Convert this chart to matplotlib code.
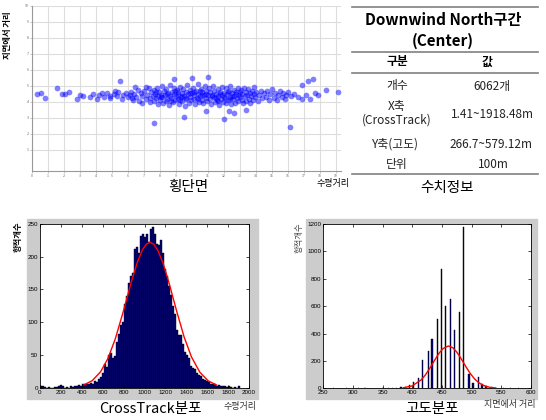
import numpy as np
import matplotlib
matplotlib.use('Agg')
import matplotlib.pyplot as plt
from matplotlib.lines import Line2D
from matplotlib.patches import Rectangle

plt.rcParams['font.family'] = ['Noto Sans CJK KR', 'DejaVu Sans']

# ---- 횡단면 scatter (x, y in units of 100 m) ----
scatter_x = [
    0.29, 0.54, 0.81, 1.58, 1.85, 2.06, 2.3, 2.83, 3.0, 3.2, 3.6, 3.8, 4.04, 4.35, 4.9,
    4.2, 4.5, 4.7, 4.9, 5.1, 5.3, 5.4, 5.6, 5.7, 5.9, 6.0, 5.2,
    6.1, 6.2, 6.3, 6.4, 6.5, 6.6, 6.7, 6.8, 6.9, 7.0, 7.1, 7.2, 7.3, 7.4, 7.45, 6.45, 6.85, 7.15, 7.35, 6.25,
    7.55, 7.6, 7.65, 7.7, 7.75, 7.8, 7.85, 7.9, 7.95, 8.0, 8.05, 8.1, 8.15, 8.2, 8.25, 8.3, 8.35, 8.4,
    8.45, 8.5, 8.55, 8.6, 8.65, 8.7, 8.75, 8.8, 8.85, 8.9, 8.95, 9.0, 7.72, 8.08, 8.42, 8.68, 8.92,
    9.05, 9.1, 9.15, 9.2, 9.25, 9.3, 9.35, 9.4, 9.45, 9.5, 9.55, 9.6, 9.65, 9.7, 9.75, 9.8, 9.85, 9.9,
    9.95, 10.0, 10.05, 10.1, 10.15, 10.2, 10.25, 10.3, 10.35, 10.4, 10.45, 10.5, 10.55, 10.6, 10.65,
    10.7, 10.75, 10.8, 10.85, 10.9, 10.95, 11.0, 9.12, 9.38, 9.62, 9.88, 10.12, 10.38, 10.62, 10.88,
    9.28, 10.48,
    11.05, 11.1, 11.15, 11.2, 11.25, 11.3, 11.35, 11.4, 11.45, 11.5, 11.55, 11.6, 11.65, 11.7, 11.75,
    11.8, 11.85, 11.9, 11.95, 12.0, 12.05, 12.1, 12.15, 12.2, 12.25, 12.3, 12.35, 12.4, 12.45, 12.5,
    12.55, 12.6, 12.65, 12.7, 12.75, 12.8, 12.85, 12.9, 12.95, 13.0, 11.22, 11.48, 11.72, 11.98, 12.22,
    12.48, 12.72, 12.98, 11.62, 12.38,
    13.05, 13.1, 13.15, 13.2, 13.25, 13.3, 13.35, 13.4, 13.45, 13.5, 13.55, 13.6, 13.65, 13.7, 13.75,
    13.8, 13.85, 13.9, 13.95, 14.0, 14.1, 14.2, 14.3, 14.4, 14.5,
    14.6, 14.7, 14.8, 14.9, 15.0, 15.1, 15.2, 15.3, 15.4, 15.5, 15.6, 15.7, 15.8, 15.9, 16.0, 16.2,
    16.4, 16.6,
    16.86, 17.27, 17.58, 17.1, 17.4, 17.9, 18.4, 19.1, 16.9, 17.7,
    9.98, 11.0, 8.86, 5.5, 16.1, 9.5, 7.6, 12.0, 12.6, 12.3, 10.9, 13.4,
]
scatter_y = [
    4.46, 4.52, 4.25, 4.88, 4.46, 4.46, 4.6, 4.15, 4.45, 4.35, 4.3, 4.5, 4.2, 4.56, 4.35,
    4.42, 4.31, 4.55, 4.22, 4.48, 4.36, 4.62, 4.18, 4.41, 4.53, 4.27, 4.70,
    4.39, 4.61, 4.12, 4.47, 4.29, 4.72, 4.05, 4.52, 4.33, 4.66, 4.18, 4.44, 4.83, 4.26, 4.58, 4.90, 3.95, 4.95, 3.98, 4.25,
    4.37, 4.71, 4.02, 4.49, 4.21, 4.88, 4.33, 3.86, 4.60, 4.12, 4.45, 4.97, 4.28, 3.92, 4.66, 4.40, 4.05, 4.79,
    4.19, 4.54, 3.81, 4.35, 5.05, 4.24, 4.62, 3.97, 4.48, 4.85, 4.10, 4.38, 4.60, 4.30, 4.50, 4.02, 4.66,
    4.71, 4.15, 4.44, 3.88, 4.93, 4.29, 4.57, 4.02, 4.81, 4.36, 3.75, 4.63, 4.20, 5.02, 4.47, 3.94, 4.74, 4.31,
    4.09, 4.55, 4.88, 4.17, 4.42, 3.83, 4.68, 4.26, 5.08, 4.51, 3.99, 4.36, 4.79, 4.12, 4.60,
    3.90, 4.45, 4.97, 4.23, 4.70, 4.05, 4.39, 4.58, 4.35, 4.25, 4.52, 4.62, 4.20, 4.40, 4.48,
    4.10, 4.70,
    4.85, 4.14, 4.58, 3.86, 4.43, 4.99, 4.27, 4.66, 3.96, 4.50, 4.08, 4.78, 4.33, 3.80, 4.61,
    4.19, 4.90, 4.41, 4.01, 4.55, 4.24, 4.83, 3.91, 4.47, 4.11, 4.69, 4.30, 5.01, 3.85, 4.52,
    4.18, 4.74, 4.36, 3.95, 4.63, 4.22, 4.88, 4.06, 4.44, 4.29, 4.35, 4.25, 4.48, 4.32, 4.62,
    4.38, 4.50, 4.60, 4.05, 4.15,
    4.72, 4.10, 4.50, 3.89, 4.85, 4.34, 4.62, 4.02, 4.45, 4.78, 4.20, 4.56, 3.93, 4.38, 4.69,
    4.13, 4.49, 4.91, 4.27, 4.58, 4.05, 4.42, 4.70, 4.24, 4.53,
    4.31, 4.64, 4.12, 4.47, 4.80, 4.25, 4.55, 4.08, 4.40, 4.68, 4.30, 4.52, 4.18, 4.44, 4.62, 4.35,
    4.50, 4.28,
    5.04, 5.29, 5.40, 4.45, 4.20, 4.40, 4.73, 4.60, 4.15, 4.55,
    5.46, 5.55, 5.40, 5.31, 2.44, 3.02, 2.69, 2.92, 3.31, 3.40, 3.45, 3.50,
]

# ---- CrossTrack 분포 (100 bins over 1.41 ~ 1918.48 m) ----
cross_min, cross_max = 1.41, 1918.48
cross_counts = [
    2, 2, 1, 0, 1, 0, 0, 1, 1, 3,
    4, 2, 0, 1, 0, 2, 1, 3, 2, 4,
    3, 6, 5, 6, 5, 7, 6, 10, 9, 14,
    17, 22, 36, 32, 50, 53, 46, 48, 70, 82,
    95, 101, 128, 140, 160, 170, 175, 212, 215, 205,
    232, 234, 230, 235, 222, 243, 245, 235, 220, 218,
    226, 205, 182, 170, 155, 142, 125, 112, 88, 80,
    80, 66, 55, 50, 45, 33, 30, 28, 22, 20,
    18, 13, 12, 10, 8, 6, 5, 5, 3, 4,
    2, 3, 2, 1, 2, 1, 0, 1, 0, 3,
]
cross_fit_x = [420, 500, 580, 650, 720, 800, 870, 930, 980, 1020, 1053, 1090, 1130, 1180,
               1240, 1310, 1380, 1450, 1530, 1610, 1690]
cross_fit_y = [4.2, 10.8, 24.4, 44.6, 74.3, 118, 159.5, 191, 210.6, 219.6, 222, 219, 209, 189,
               157, 115.6, 77, 46.8, 23.5, 10.4, 4]

# ---- 고도 분포 ----
alt_pos = [266.9, 289, 309, 320, 351, 359.6, 366.9, 373.6, 381, 388.2, 395, 401.7, 410.7, 416.9,
           427, 433.1, 442.1, 448.9, 455.6, 464, 470.8, 479.8, 486, 495.5, 502.2, 511.2, 517.4,
           524.2, 533.7, 541, 553.4, 565.7, 578.6]
alt_counts = [2, 3, 2, 2, 2, 2, 3, 5, 7, 12, 24, 44, 78, 209, 272, 360, 504, 871, 603, 650, 423,
              555, 1180, 105, 36, 85, 32, 17, 12, 5, 2, 2, 1]
alt_fit_x = [385, 400, 415, 422, 430, 437, 445, 452, 460.7, 468, 475, 482, 490, 497, 505, 512,
             520, 530, 540]
alt_fit_y = [3.8, 18, 62, 97.6, 150, 200.6, 256, 291, 309, 297, 264, 218, 160, 112, 68, 40.9,
             20.7, 7.7, 2.4]

W, H = 546, 420
fig = plt.figure(figsize=(W / 100, H / 100), dpi=100)
fig.patch.set_facecolor('white')


def box(x0, y0, x1, y1):
    # pixel box (top-left origin) -> figure fraction rect
    return [x0 / W, 1 - y1 / H, (x1 - x0) / W, (y1 - y0) / H]


def ftext(x, y, s, **kw):
    fig.text(x / W, 1 - y / H, s, ha=kw.pop('ha', 'center'), va=kw.pop('va', 'center'), **kw)


# gray panels behind the two histograms
fig.patches.append(Rectangle((27 / W, 1 - 399 / H), 231 / W, 180 / H,
                             transform=fig.transFigure, color='#cccccc', zorder=-5))
fig.patches.append(Rectangle((305.7 / W, 1 - 399 / H), 231 / W, 180 / H,
                             transform=fig.transFigure, color='#cccccc', zorder=-5))

# ---------- scatter ----------
ax1 = fig.add_axes(box(32, 5.7, 341, 170.7))
ax1.scatter(scatter_x, scatter_y, s=17, color='#0000ff', alpha=0.5, linewidths=0)
ax1.set_xlim(0, 19.31)
ax1.set_ylim(-0.31, 10)
ax1.set_xticks(range(0, 20))
ax1.set_yticks(range(1, 11))
ax1.set_xticklabels([str(i) for i in range(0, 20)])
ax1.set_yticklabels([str(i) for i in range(1, 11)])
ax1.tick_params(labelsize=2.5, labelcolor='#666666', length=1.5, width=0.4, color='#999999', pad=1)
ax1.grid(True, color='#dddddd', lw=0.8)
ax1.set_axisbelow(True)
for s in ['top', 'right']:
    ax1.spines[s].set_visible(False)
for s in ['left', 'bottom']:
    ax1.spines[s].set_color('#999999')
    ax1.spines[s].set_linewidth(0.8)

ftext(8, 35, '지면에서 거리', rotation=90, fontsize=6, fontweight='bold')
ftext(333, 183.5, '수평거리', fontsize=6.5)
ftext(188, 187, '횡단면', fontsize=10.5)

# ---------- table ----------
for yy in [7.3, 51.7, 72.7, 174]:
    fig.add_artist(Line2D([352 / W, 538 / W], [1 - yy / H] * 2, color='#808080', lw=1.2))
ftext(443, 20, 'Downwind North구간', fontsize=11, fontweight='bold')
ftext(443, 40.7, '(Center)', fontsize=11, fontweight='bold')
ftext(397, 62, '구분', fontsize=8.5, fontweight='bold')
ftext(487, 62, '값', fontsize=8.5, fontweight='bold')
ftext(397, 86, '개수', fontsize=8.5, color='#222222')
ftext(492, 86.5, '6062개', fontsize=8.5, color='#222222')
ftext(397, 106.5, 'X축', fontsize=8.5, color='#222222')
ftext(397, 120, '(CrossTrack)', fontsize=8.5, color='#222222')
ftext(492, 115, '1.41~1918.48m', fontsize=8.5, color='#222222')
ftext(395, 144, 'Y축(고도)', fontsize=8.5, color='#222222')
ftext(491, 144, '266.7~579.12m', fontsize=8.5, color='#222222')
ftext(397, 164.5, '단위', fontsize=8.5, color='#222222')
ftext(493, 165, '100m', fontsize=8.5, color='#222222')
ftext(447, 188, '수치정보', fontsize=10.5)


# ---------- histograms ----------
def style_hist(ax):
    ax.set_zorder(2)
    ax.tick_params(direction='in', top=True, right=True, length=2, width=0.5,
                   labelsize=4.5, pad=1.5)
    for lab in ax.get_xticklabels() + ax.get_yticklabels():
        lab.set_family('Liberation Sans')
    for s in ax.spines.values():
        s.set_linewidth(0.6)


ax2 = fig.add_axes(box(40, 224, 249, 387.7))
edges = np.linspace(cross_min, cross_max, len(cross_counts) + 1)
ax2.bar(edges[:-1], cross_counts, width=edges[1] - edges[0], align='edge',
        color='#000080', edgecolor='black', linewidth=0.3)
ax2.plot(cross_fit_x, cross_fit_y, color='red', lw=1)
ax2.set_xlim(0, 2000)
ax2.set_ylim(0, 250)
ax2.set_xticks(range(0, 2001, 200))
ax2.set_yticks(range(0, 251, 50))
style_hist(ax2)

ax3 = fig.add_axes(box(323.3, 224, 531, 388.3))
ax3.bar(alt_pos, alt_counts, width=2.5, color='#000080', edgecolor='black', linewidth=0.3)
ax3.plot(alt_fit_x, alt_fit_y, color='red', lw=1)
ax3.set_xlim(250, 600)
ax3.set_ylim(0, 1200)
ax3.set_xticks(range(250, 601, 50))
ax3.set_yticks(range(0, 1201, 200))
style_hist(ax3)

ftext(18, 237, '항적개수', rotation=90, fontsize=6, fontweight='bold')
ftext(240, 407, '수평거리', fontsize=6.5, color='#333333')
ftext(150, 409, 'CrossTrack분포', fontsize=10.5)
ftext(299, 238, '항적개수', rotation=90, fontsize=6, color='#444444')
ftext(510, 404, '지면에서 거리', fontsize=6.5, color='#333333')
ftext(432, 409, '고도분포', fontsize=10.5)

fig.savefig('out.png', dpi=100, facecolor='white')
